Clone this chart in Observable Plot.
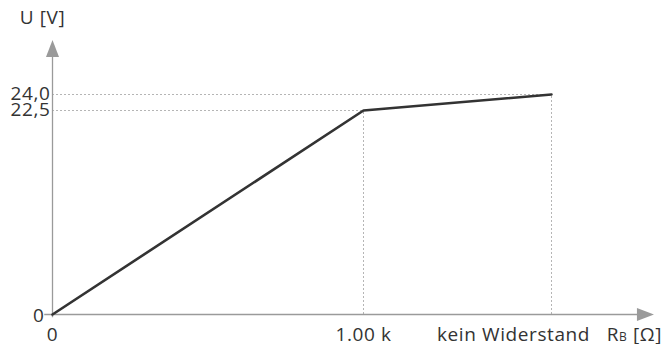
<!DOCTYPE html>
<html><head><meta charset="utf-8">
<script src="https://cdn.jsdelivr.net/npm/d3@7"></script>
<script src="https://cdn.jsdelivr.net/npm/@observablehq/plot@0.6"></script>
<style>body{margin:0;background:#fff;} svg{display:block;} svg text{letter-spacing:0.6px;}</style>
</head><body><div id="chart"></div>
<script>
// Curve points (x given as ordinal position: 0, 1.00 k, kein Widerstand)
const resistancePos = [0, 1, 2];
const voltage = [0, 22.5, 24.0];
// Tick labels
const xTickValues = [0, 1, 2];
const xTickLabels = ["0", "1.00 k", "kein Widerstand"];
const yTickValues = [0, 22.5, 24.0];
const yTickLabels = ["0", "22,5", "24,0"];
// Axis titles
const yAxisTitle = "U [V]";
const xAxisTitleMain = "R";
const xAxisTitleSub = "B";
const xAxisTitleUnit = " [Ω]";
// Axis extents (data units)
const xAxisStart = -0.025, xAxisEnd = 2.545;
const yAxisStart = -0.35, yAxisEnd = 29.1;

const points = resistancePos.map((r, i) => ({r, u: voltage[i]}));
const xTicks = xTickValues.map((v, i) => ({v, label: xTickLabels[i]}));
const yTicks = yTickValues.map((v, i) => ({v, label: yTickLabels[i]}));

const arrowHead = {
  draw(ctx) {
    ctx.moveTo(0, 0);
    ctx.lineTo(-6.5, 17);
    ctx.lineTo(6.5, 17);
    ctx.closePath();
  }
};

const font = "'Open Sans', sans-serif";
const textColor = "#333";
const fs = 19;
const XTITLE = xAxisTitleMain + xAxisTitleSub + xAxisTitleUnit;

const chart = Plot.plot({
  width: 662,
  height: 344,
  margin: 0,
  style: {fontFamily: font, background: "#fff", overflow: "visible"},
  x: {type: "linear", domain: [0, 1, 2], range: [52, 363, 551], axis: null},
  y: {type: "linear", domain: [0, 22.5, 24], range: [314, 110, 94], axis: null},
  marks: [
    // dotted guide lines
    Plot.ruleY(points.filter(d => d.r > 0), {y: "u", x1: 0, x2: "r", stroke: "#b5b5b5", strokeWidth: 1, strokeDasharray: "2,2"}),
    Plot.ruleX(points.filter(d => d.r > 0), {x: "r", y1: 0, y2: "u", stroke: "#b5b5b5", strokeWidth: 1, strokeDasharray: "2,2"}),
    // axes
    Plot.ruleY([0], {x1: xAxisStart, x2: xAxisEnd - 0.02, stroke: "#9a9a9a", strokeWidth: 1.3}),
    Plot.ruleX([0], {y1: yAxisStart, y2: yAxisEnd - 0.5, stroke: "#9a9a9a", strokeWidth: 1.3}),
    Plot.dot([{x: 0, y: yAxisEnd}], {x: "x", y: "y", symbol: arrowHead, fill: "#9a9a9a", stroke: null, r: 5}),
    Plot.dot([{x: xAxisEnd, y: 0}], {x: "x", y: "y", symbol: arrowHead, rotate: 90, fill: "#9a9a9a", stroke: null, r: 5}),
    // curve
    Plot.line(points, {x: "r", y: "u", stroke: "#333", strokeWidth: 2.6, strokeLinejoin: "miter"}),
    // y tick labels
    Plot.text(yTicks.filter(d => d.v !== 0), {x: 0, y: "v", text: "label", textAnchor: "end", dx: -2, dy: -1, fontSize: fs, fill: textColor}),
    Plot.text(yTicks.filter(d => d.v === 0), {x: 0, y: "v", text: "label", textAnchor: "end", dx: -8, dy: 1, fontSize: fs, fill: textColor}),
    // x tick labels
    Plot.text(xTicks.filter(d => d.v < 2), {x: "v", y: 0, text: "label", textAnchor: "middle", dy: 20, fontSize: fs, fill: textColor}),
    Plot.text(xTicks.filter(d => d.v === 2), {x: "v", y: 0, text: "label", textAnchor: "middle", dx: -38, dy: 20, fontSize: fs, fill: textColor}),
    // axis titles
    Plot.text([yAxisTitle], {x: 0, y: yAxisEnd, text: d => d, textAnchor: "middle", dx: -10, dy: -22, fontSize: fs, fill: textColor}),
    Plot.text([XTITLE], {x: xAxisEnd, y: 0, text: d => d, textAnchor: "end", dx: 8, dy: 20, fontSize: fs, fill: textColor})
  ]
});

document.getElementById("chart").appendChild(chart);

// small-cap subscript B in the x-axis title
d3.select(chart).selectAll("text").filter(function() { return this.textContent === XTITLE; }).each(function() {
  const t = d3.select(this);
  t.text(null);
  t.append("tspan").text(xAxisTitleMain);
  t.append("tspan").attr("font-size", 12).style("font-size", "12px").text(xAxisTitleSub);
  t.append("tspan").text(xAxisTitleUnit);
});
</script>
</body></html>
